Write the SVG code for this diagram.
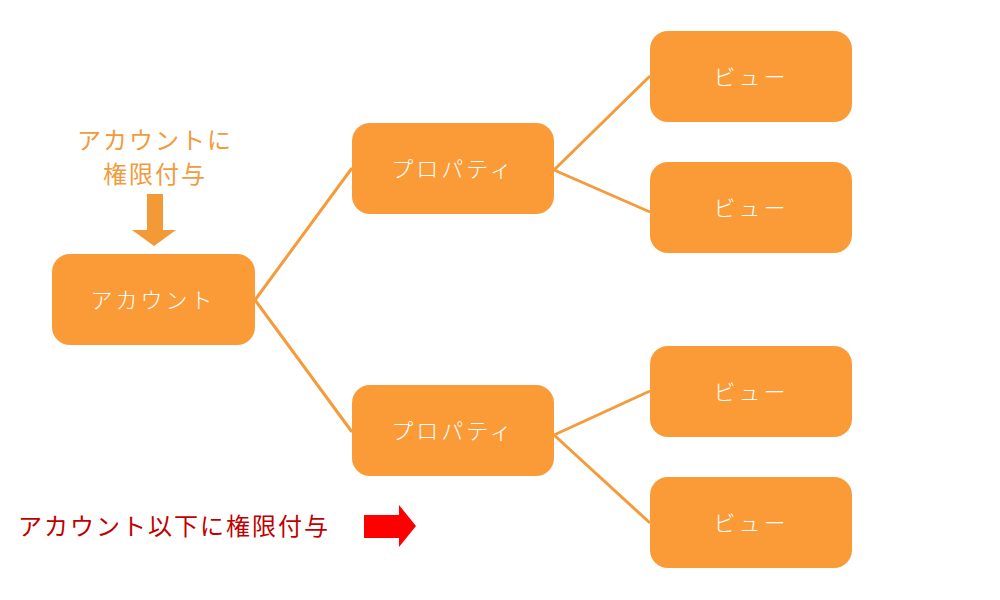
<svg xmlns="http://www.w3.org/2000/svg" width="1000" height="600" viewBox="0 0 1000 600">
<style>
.n{fill:#fa9b37}
.t{fill:#fff;font-family:"Noto Sans CJK JP",sans-serif;font-size:22px;font-weight:300;text-anchor:middle;dominant-baseline:central;letter-spacing:3px}
.c{stroke:#f59b3b;stroke-width:3;fill:none}
</style>
<rect width="1000" height="600" fill="#fff"/>
<g id="connectors">
<path class="c" d="M255 300L352 168M255 300L352 432M554 170L650 76M554 170L650 212M554 435L650 391M554 435L650 523"/>
</g>
<g id="account"><rect class="n" x="52" y="254" width="203" height="91" rx="18"/><text class="t" x="153" y="298">アカウント</text></g>
<g id="prop1"><rect class="n" x="352" y="123" width="202" height="91" rx="18"/><text class="t" x="453" y="167">プロパティ</text></g>
<g id="prop2"><rect class="n" x="352" y="385" width="202" height="91" rx="18"/><text class="t" x="453" y="429">プロパティ</text></g>
<g id="view1"><rect class="n" x="650" y="31" width="202" height="91" rx="18"/><text class="t" x="751" y="75">ビュー</text></g>
<g id="view2"><rect class="n" x="650" y="162" width="202" height="91" rx="18"/><text class="t" x="751" y="206">ビュー</text></g>
<g id="view3"><rect class="n" x="650" y="346" width="202" height="91" rx="18"/><text class="t" x="751" y="390">ビュー</text></g>
<g id="view4"><rect class="n" x="650" y="477" width="202" height="91" rx="18"/><text class="t" x="751" y="521">ビュー</text></g>
<g id="label1" font-family="Noto Sans CJK JP,sans-serif" font-size="24" fill="#f19b3e" text-anchor="middle" letter-spacing="2">
<text x="155" y="149">アカウントに</text><text x="155" y="183">権限付与</text>
<path d="M147 194H163V230H176L154 246L132 230H147Z" fill="#f39a37"/>
</g>
<g id="label2">
<text x="18" y="535" font-family="Noto Sans CJK JP,sans-serif" font-size="24" fill="#c00000" letter-spacing="2">アカウント以下に権限付与</text>
<path d="M364 515H399V505L416 526L399 547V538H364Z" fill="#f00"/>
</g>
</svg>
